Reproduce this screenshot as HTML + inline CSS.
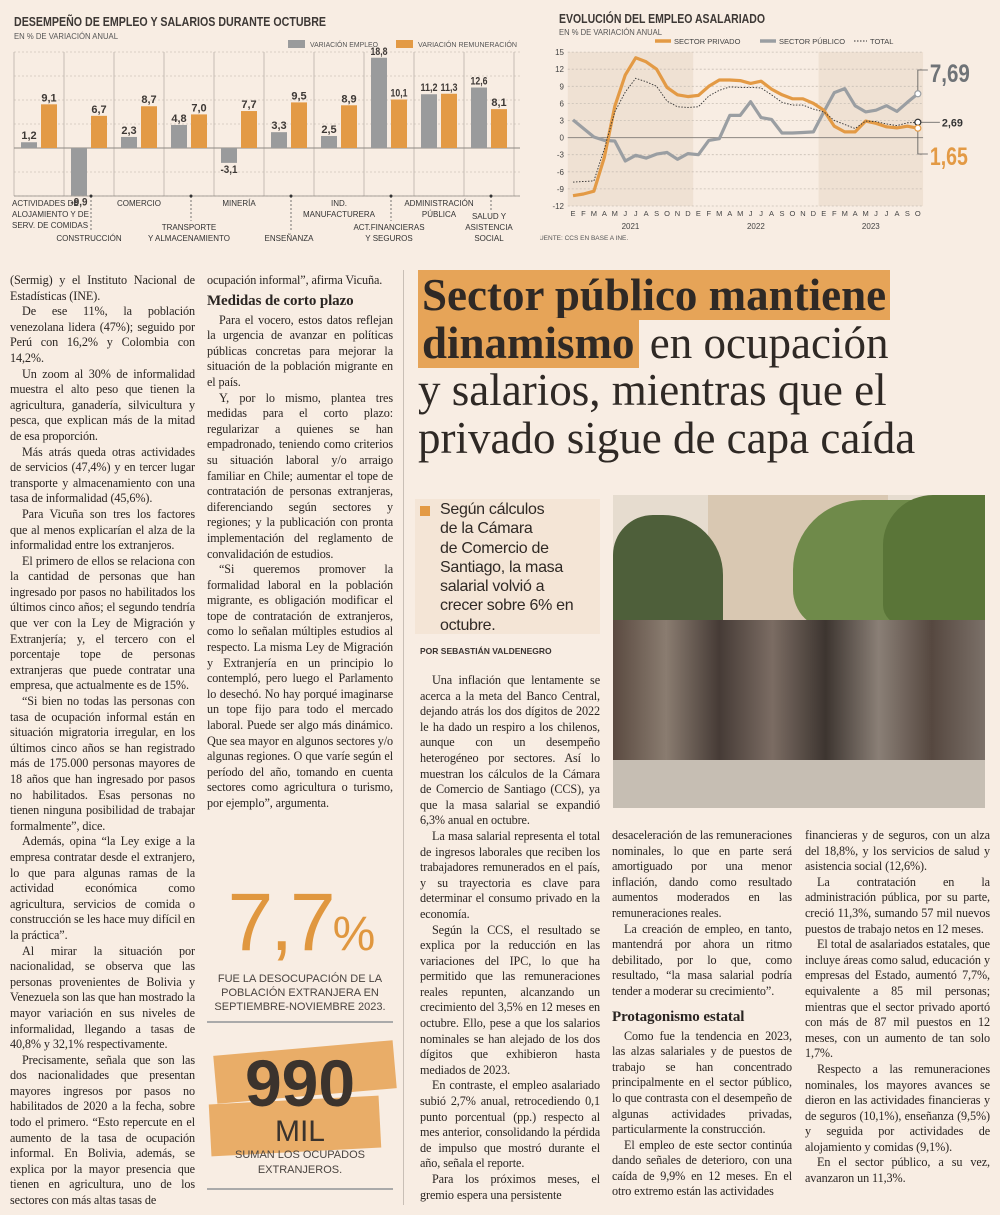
<!DOCTYPE html>
<html lang="es"><head><meta charset="utf-8">
<style>
*{margin:0;padding:0;box-sizing:border-box}
body{width:1000px;height:1215px;background:#f8ede3;position:relative;overflow:hidden;font-family:"Liberation Serif",serif;color:#2a2522}
.col{position:absolute;font-size:12.2px;line-height:15.6px;text-align:justify;hyphens:auto;-webkit-hyphens:auto;letter-spacing:-0.1px}
.col p{text-indent:12px}
.col p.ni{text-indent:0}
.col h3{font-size:15px;line-height:19px;font-weight:bold;margin:3px 0 2px}
svg text{font-family:"Liberation Sans",sans-serif}
.hl{background:#e6a458;padding:0 4px}
</style></head><body>
<svg id="bar" width="540" height="255" style="position:absolute;left:0;top:0"></svg>
<svg id="line" width="460" height="255" style="position:absolute;left:540px;top:0"></svg>

<div style="position:absolute;left:403px;top:270px;width:1px;height:935px;background:#c9bfb6"></div>

<div class="col" style="left:10px;top:273px;width:185px">
<p class="ni">(Sermig) y el Instituto Nacional de Estadísticas (INE).</p>
<p>De ese 11%, la población venezolana lidera (47%); seguido por Perú con 16,2% y Colombia con 14,2%.</p>
<p>Un zoom al 30% de informalidad muestra el alto peso que tienen la agricultura, ganadería, silvicultura y pesca, que explican más de la mitad de esa proporción.</p>
<p>Más atrás queda otras actividades de servicios (47,4%) y en tercer lugar transporte y almacenamiento con una tasa de informalidad (45,6%).</p>
<p>Para Vicuña son tres los factores que al menos explicarían el alza de la informalidad entre los extranjeros.</p>
<p>El primero de ellos se relaciona con la cantidad de personas que han ingresado por pasos no habilitados los últimos cinco años; el segundo tendría que ver con la Ley de Migración y Extranjería; y, el tercero con el porcentaje tope de personas extranjeras que puede contratar una empresa, que actualmente es de 15%.</p>
<p>“Si bien no todas las personas con tasa de ocupación informal están en situación migratoria irregular, en los últimos cinco años se han registrado más de 175.000 personas mayores de 18 años que han ingresado por pasos no habilitados. Esas personas no tienen ninguna posibilidad de trabajar formalmente”, dice.</p>
<p>Además, opina “la Ley exige a la empresa contratar desde el extranjero, lo que para algunas ramas de la actividad económica como agricultura, servicios de comida o construcción se les hace muy difícil en la práctica”.</p>
<p>Al mirar la situación por nacionalidad, se observa que las personas provenientes de Bolivia y Venezuela son las que han mostrado la mayor variación en sus niveles de informalidad, llegando a tasas de 40,8% y 32,1% respectivamente.</p>
<p>Precisamente, señala que son las dos nacionalidades que presentan mayores ingresos por pasos no habilitados de 2020 a la fecha, sobre todo el primero. “Esto repercute en el aumento de la tasa de ocupación informal. En Bolivia, además, se explica por la mayor presencia que tienen en agricultura, uno de los sectores con más altas tasas de</p>
</div>

<div class="col" style="left:207px;top:273px;width:186px">
<p class="ni">ocupación informal”, afirma Vicuña.</p>
<h3>Medidas de corto plazo</h3>
<p>Para el vocero, estos datos reflejan la urgencia de avanzar en políticas públicas concretas para mejorar la situación de la población migrante en el país.</p>
<p>Y, por lo mismo, plantea tres medidas para el corto plazo: regularizar a quienes se han empadronado, teniendo como criterios su situación laboral y/o arraigo familiar en Chile; aumentar el tope de contratación de personas extranjeras, diferenciando según sectores y regiones; y la publicación con pronta implementación del reglamento de convalidación de estudios.</p>
<p>“Si queremos promover la formalidad laboral en la población migrante, es obligación modificar el tope de contratación de extranjeros, como lo señalan múltiples estudios al respecto. La misma Ley de Migración y Extranjería en un principio lo contempló, pero luego el Parlamento lo desechó. No hay porqué imaginarse un tope fijo para todo el mercado laboral. Puede ser algo más dinámico. Que sea mayor en algunos sectores y/o algunas regiones. O que varíe según el período del año, tomando en cuenta sectores como agricultura o turismo, por ejemplo”, argumenta.</p>
</div>

<!-- stat boxes -->
<div style="position:absolute;left:207px;top:880px;width:186px;text-align:center;font-family:'Liberation Sans',sans-serif">
<div style="font-size:82px;line-height:86px;color:#e0973f;letter-spacing:-3px">7,7<span style="font-size:48px">%</span></div>
<div style="font-size:11px;line-height:14px;color:#4a4440;margin-top:-6px">FUE LA DESOCUPACIÓN DE LA<br>POBLACIÓN EXTRANJERA EN<br>SEPTIEMBRE-NOVIEMBRE 2023.</div>
</div>
<div style="position:absolute;left:207px;top:1021px;width:186px;height:2px;background:#aaa"></div>
<div style="position:absolute;left:215px;top:1048px;width:180px;height:48px;background:#e9ad68;transform:rotate(-5deg)"></div>
<div style="position:absolute;left:210px;top:1100px;width:170px;height:52px;background:#e9ad68;transform:rotate(-3deg)"></div>
<div style="position:absolute;left:207px;top:1050px;width:186px;text-align:center;font-family:'Liberation Sans',sans-serif">
<div style="font-size:66px;line-height:66px;font-weight:bold;color:#3b332d">990</div>
<div style="font-size:30px;line-height:32px;color:#3b332d">MIL</div>
<div style="font-size:11px;line-height:15px;color:#4a4440">SUMAN LOS OCUPADOS<br>EXTRANJEROS.</div>
</div>
<div style="position:absolute;left:207px;top:1188px;width:186px;height:2px;background:#aaa"></div>

<!-- headline -->
<div style="position:absolute;left:418px;top:272px;width:580px;font-family:'Liberation Serif',serif;font-size:45px;line-height:47.5px;color:#2f2925">
<span class="hl" style="font-weight:bold">Sector público mantiene</span><br><span class="hl" style="font-weight:bold">dinamismo</span> en ocupación<br>y salarios, mientras que el<br>privado sigue de capa caída</div>

<div style="position:absolute;left:415px;top:499px;width:185px;height:135px;background:#f4e5d6"></div>
<div style="position:absolute;left:420px;top:506px;width:10px;height:10px;background:#e39a45"></div>
<div style="position:absolute;left:440px;top:500px;width:160px;font-family:'Liberation Sans',sans-serif;font-size:16px;line-height:19.3px;color:#2f2925;letter-spacing:-0.3px">Según cálculos<br>de la Cámara<br>de Comercio de<br>Santiago, la masa<br>salarial volvió a<br>crecer sobre 6% en<br>octubre.</div>
<div style="position:absolute;left:420px;top:646px;font-family:'Liberation Sans',sans-serif;font-size:8.5px;font-weight:bold;color:#3a3330">POR SEBASTIÁN VALDENEGRO</div>

<!-- photo -->
<div style="position:absolute;left:613px;top:495px;width:372px;height:313px;overflow:hidden;background:#d8d2c8">
<div style="position:absolute;left:0;top:0;width:372px;height:170px;background:#e6dccf"></div>
<div style="position:absolute;left:95px;top:0;width:180px;height:140px;background:#d9c8b2"></div>
<div style="position:absolute;left:0;top:20px;width:110px;height:130px;background:#4e5f3a;border-radius:40px 60px 10px 10px"></div>
<div style="position:absolute;left:180px;top:5px;width:192px;height:130px;background:#6f8a4a;border-radius:70px 30px 10px 40px"></div>
<div style="position:absolute;left:270px;top:0;width:102px;height:130px;background:#5a7538;border-radius:50px 0 0 20px"></div>
<div style="position:absolute;left:0;top:150px;width:372px;height:163px;background:#bdb4a8"></div>
<div style="position:absolute;left:0;top:125px;width:372px;height:140px;background:linear-gradient(90deg,#5a4a40,#8a7c70,#463b36,#7b6c63,#3d3530,#8a7f76,#564840,#7b7068)"></div>
<div style="position:absolute;left:0;top:265px;width:372px;height:48px;background:#c6beb3"></div>
</div>

<div class="col" style="left:420px;top:673px;width:180px">
<p>Una inflación que lentamente se acerca a la meta del Banco Central, dejando atrás los dos dígitos de 2022 le ha dado un respiro a los chilenos, aunque con un desempeño heterogéneo por sectores. Así lo muestran los cálculos de la Cámara de Comercio de Santiago (CCS), ya que la masa salarial se expandió 6,3% anual en octubre.</p>
<p>La masa salarial representa el total de ingresos laborales que reciben los trabajadores remunerados en el país, y su trayectoria es clave para determinar el consumo privado en la economía.</p>
<p>Según la CCS, el resultado se explica por la reducción en las variaciones del IPC, lo que ha permitido que las remuneraciones reales repunten, alcanzando un crecimiento del 3,5% en 12 meses en octubre. Ello, pese a que los salarios nominales se han alejado de los dos dígitos que exhibieron hasta mediados de 2023.</p>
<p>En contraste, el empleo asalariado subió 2,7% anual, retrocediendo 0,1 punto porcentual (pp.) respecto al mes anterior, consolidando la pérdida de impulso que mostró durante el año, señala el reporte.</p>
<p>Para los próximos meses, el gremio espera una persistente</p>
</div>

<div class="col" style="left:612px;top:828px;width:180px">
<p class="ni">desaceleración de las remuneraciones nominales, lo que en parte será amortiguado por una menor inflación, dando como resultado aumentos moderados en las remuneraciones reales.</p>
<p>La creación de empleo, en tanto, mantendrá por ahora un ritmo debilitado, por lo que, como resultado, “la masa salarial podría tender a moderar su crecimiento”.</p>
<h3 style="margin-top:8px">Protagonismo estatal</h3>
<p>Como fue la tendencia en 2023, las alzas salariales y de puestos de trabajo se han concentrado principalmente en el sector público, lo que contrasta con el desempeño de algunas actividades privadas, particularmente la construcción.</p>
<p>El empleo de este sector continúa dando señales de deterioro, con una caída de 9,9% en 12 meses. En el otro extremo están las actividades</p>
</div>

<div class="col" style="left:805px;top:828px;width:185px">
<p class="ni">financieras y de seguros, con un alza del 18,8%, y los servicios de salud y asistencia social (12,6%).</p>
<p>La contratación en la administración pública, por su parte, creció 11,3%, sumando 57 mil nuevos puestos de trabajo netos en 12 meses.</p>
<p>El total de asalariados estatales, que incluye áreas como salud, educación y empresas del Estado, aumentó 7,7%, equivalente a 85 mil personas; mientras que el sector privado aportó con más de 87 mil puestos en 12 meses, con un aumento de tan solo 1,7%.</p>
<p>Respecto a las remuneraciones nominales, los mayores avances se dieron en las actividades financieras y de seguros (10,1%), enseñanza (9,5%) y seguida por actividades de alojamiento y comidas (9,1%).</p>
<p>En el sector público, a su vez, avanzaron un 11,3%.</p>
</div>

<script>
// ---- Bar chart data ----
const barCategories = [["ACTIVIDADES DE","ALOJAMIENTO Y DE","SERV. DE COMIDAS"],["CONSTRUCCIÓN"],["COMERCIO"],["TRANSPORTE","Y ALMACENAMIENTO"],["MINERÍA"],["ENSEÑANZA"],["IND.","MANUFACTURERA"],["ACT.FINANCIERAS","Y SEGUROS"],["ADMINISTRACIÓN","PÚBLICA"],["SALUD Y","ASISTENCIA","SOCIAL"]];
const empleoValues = [1.2,-9.9,2.3,4.8,-3.1,3.3,2.5,18.8,11.2,12.6];
const remuneracionValues = [9.1,6.7,8.7,7.0,7.7,9.5,8.9,10.1,11.3,8.1];
const barGridTicks = [-10,-5,0,5,10,15,20];

// ---- Line chart data ----
const monthLabels = ["E","F","M","A","M","J","J","A","S","O","N","D","E","F","M","A","M","J","J","A","S","O","N","D","E","F","M","A","M","J","J","A","S","O"];
const yearLabels = ["2021","2022","2023"];
const privadoValues = [-10.2,-9.9,-9.4,-3.5,5.5,11,14,13.3,12,8.8,7.5,7.2,7.4,9,10.1,10.1,10,9.5,9.9,8.5,7.5,6.8,6.8,6,4.8,2,1,1,2.9,2.5,1.9,1.7,2.0,1.65];
const publicoValues = [3.1,1.6,0.1,-0.5,-0.6,-4.1,-3.1,-3.6,-2.9,-2.6,-3.8,-2.8,-3.0,-0.5,-0.2,3.9,3.9,6.3,3.5,3.2,0.8,0.8,0.9,1.0,4.5,7.9,8.6,5.6,4.5,4.8,5.6,4.6,6.2,7.69];
const totalValues = [-7.8,-7.7,-7.6,-2,4.5,8,10.4,9.8,9,6.4,5.4,5.3,5.4,7.3,8.3,8.9,8.8,8.8,8.7,7.5,6.2,5.7,5.7,5,4.5,3,2.3,1.6,2.9,2.8,2.4,2.1,2.6,2.69];
const lineTicks = [-12,-9,-6,-3,0,3,6,9,12,15];

const NS="http://www.w3.org/2000/svg";
function mk(svg,tag,attrs,txt){const e=document.createElementNS(NS,tag);for(const k in attrs)e.setAttribute(k,attrs[k]);if(txt!==undefined)e.textContent=txt;svg.appendChild(e);return e;}
const fmt=v=>v.toFixed(1).replace('.',',');

// Bar chart
(function(){
const s=document.getElementById('bar');
const by=v=>148-v*4.8;
const colX=i=>14+i*50;
let e;
e=mk(s,'text',{x:14,y:26,'font-size':13,'font-weight':'bold',fill:'#3d3835',textLength:312,lengthAdjust:'spacingAndGlyphs'},'DESEMPEÑO DE EMPLEO Y SALARIOS DURANTE OCTUBRE');

e=mk(s,'text',{x:14,y:39,'font-size':8,fill:'#555',textLength:104,lengthAdjust:'spacingAndGlyphs'},'EN % DE VARIACIÓN ANUAL');

e=mk(s,'rect',{x:288,y:40,width:17,height:8,fill:'#9a9b9c'});

e=mk(s,'text',{x:310,y:47,'font-size':7.5,fill:'#555',textLength:68,lengthAdjust:'spacingAndGlyphs'},'VARIACIÓN EMPLEO');

e=mk(s,'rect',{x:396,y:40,width:17,height:8,fill:'#e39a45'});

e=mk(s,'text',{x:418,y:47,'font-size':7.5,fill:'#555',textLength:99,lengthAdjust:'spacingAndGlyphs'},'VARIACIÓN REMUNERACIÓN');

barGridTicks.forEach(t=>{if(t===0)return;const l=mk(s,'line',{x1:14,x2:520,y1:by(t),y2:by(t),stroke:'#cfc6bd','stroke-width':0.8,'stroke-dasharray':'2,2'});
});
for(let i=0;i<=barCategories.length;i++){const l=mk(s,'line',{x1:colX(i),x2:colX(i),y1:by(20),y2:by(-10),stroke:'#b9b0a8','stroke-width':0.8});
}
const z=mk(s,'line',{x1:14,x2:520,y1:by(0),y2:by(0),stroke:'#8d8782','stroke-width':1});

const bl=mk(s,'line',{x1:14,x2:520,y1:by(-10),y2:by(-10),stroke:'#8d8782','stroke-width':0.8});

barCategories.forEach((cat,i)=>{
 const x0=colX(i);
 [[empleoValues[i],7,'#9a9b9c','bar-empleo'],[remuneracionValues[i],27,'#e39a45','bar-remuneracion']].forEach(([v,off,c,n])=>{
  const r=mk(s,'rect',{x:x0+off,y:Math.min(by(v),by(0)),width:16,height:Math.abs(by(v)-by(0)),fill:c});
  
  const lbl=fmt(v);
  const at={x:x0+off+8,y:v>=0?by(v)-3:by(v)+10,'font-size':11,'font-weight':'bold','text-anchor':'middle',fill:'#3d3835'};
  if(lbl.length>=4){at.textLength=17;at.lengthAdjust='spacingAndGlyphs';}
  const t=mk(s,'text',at,lbl);
  
 });
 const odd=i%2===1;
 const cx=x0+25;
 let y0;
 if(odd){y0=241-(cat.length-1)*11;
  const d=mk(s,'line',{x1:cx+2,x2:cx+2,y1:196,y2:y0-9,stroke:'#555','stroke-width':0.8,'stroke-dasharray':'2,2'});
  
  const dot=mk(s,'circle',{cx:cx+2,cy:196,r:1.5,fill:'#333'});
  
 } else y0=206;
 if(i===9)y0=219;
 cat.forEach((ln,k)=>{const t=mk(s,'text',{x:i===0?12:cx,y:y0+k*11,'font-size':8,'text-anchor':i===0?'start':'middle',fill:'#333'},ln);
 });
});
})();

// Line chart
(function(){
const s=document.getElementById('line');
const lx=i=>33+i*10.45;
const ly=v=>137.6-v*5.7;
let e;
e=mk(s,'text',{x:19,y:23,'font-size':12.5,'font-weight':'bold',fill:'#3d3835',textLength:206,lengthAdjust:'spacingAndGlyphs'},'EVOLUCIÓN DEL EMPLEO ASALARIADO');

e=mk(s,'text',{x:19,y:35,'font-size':8,fill:'#555',textLength:103,lengthAdjust:'spacingAndGlyphs'},'EN % DE VARIACIÓN ANUAL');

e=mk(s,'rect',{x:lx(-0.5),y:ly(15),width:lx(11.5)-lx(-0.5),height:ly(-12)-ly(15),fill:'#efe1d3'});

e=mk(s,'rect',{x:lx(23.5),y:ly(15),width:lx(33.5)-lx(23.5),height:ly(-12)-ly(15),fill:'#efe1d3'});

lineTicks.forEach(t=>{
 const l=mk(s,'line',{x1:lx(-0.5),x2:lx(33.5),y1:ly(t),y2:ly(t),stroke:t===0?'#8d8782':'#c9c0b6','stroke-width':t===0?1:0.8,'stroke-dasharray':t===0?'':'2,2'});
 
 const tx=mk(s,'text',{x:24,y:ly(t)+3,'font-size':8,'text-anchor':'end',fill:'#444'},String(t));
 
});
monthLabels.forEach((m,i)=>{const t=mk(s,'text',{x:lx(i),y:216,'font-size':7.5,'text-anchor':'middle',fill:'#444'},m);
});
yearLabels.forEach((y,k)=>{const c=k<2?lx(k*12+5.5):lx(28.5);const t=mk(s,'text',{x:c,y:229,'font-size':8,'text-anchor':'middle',fill:'#444'},y);
});
e=mk(s,'text',{x:-5,y:240,'font-size':6.5,fill:'#555'},'FUENTE: CCS EN BASE A INE.');

const path=vals=>vals.map((v,i)=>(i?'L':'M')+lx(i).toFixed(1)+','+ly(v).toFixed(1)).join(' ');
e=mk(s,'path',{d:path(publicoValues),fill:'none',stroke:'#9a9ea2','stroke-width':3.2,'stroke-linejoin':'round'});

e=mk(s,'path',{d:path(privadoValues),fill:'none',stroke:'#e39a45','stroke-width':3.2,'stroke-linejoin':'round'});

e=mk(s,'path',{d:path(totalValues),fill:'none',stroke:'#333','stroke-width':0.9,'stroke-dasharray':'1.5,1.5'});

e=mk(s,'line',{x1:115,x2:131,y1:41,y2:41,stroke:'#e39a45','stroke-width':3.5});

e=mk(s,'text',{x:134,y:44,'font-size':7.5,fill:'#444'},'SECTOR PRIVADO');

e=mk(s,'line',{x1:220,x2:236,y1:41,y2:41,stroke:'#9a9ea2','stroke-width':3.5});

e=mk(s,'text',{x:239,y:44,'font-size':7.5,fill:'#444'},'SECTOR PÚBLICO');

e=mk(s,'line',{x1:314,x2:327,y1:41,y2:41,stroke:'#333','stroke-width':1,'stroke-dasharray':'1.5,1.5'});

e=mk(s,'text',{x:330,y:44,'font-size':7.5,fill:'#444'},'TOTAL');

const n=monthLabels.length-1, ex=lx(n);
const pv=publicoValues[n], tv=totalValues[n], rv=privadoValues[n];
e=mk(s,'path',{d:`M${ex},${ly(pv)} V70 H${ex+10}`,fill:'none',stroke:'#555','stroke-width':0.8});

e=mk(s,'path',{d:`M${ex},${ly(tv)} H${ex+22}`,fill:'none',stroke:'#555','stroke-width':0.8});

e=mk(s,'path',{d:`M${ex},${ly(rv)} V154 H${ex+10}`,fill:'none',stroke:'#555','stroke-width':0.8});

[[pv,'#9a9ea2'],[tv,'#333'],[rv,'#e39a45']].forEach(([v,c])=>{const d=mk(s,'circle',{cx:ex,cy:ly(v),r:3,fill:'#fff',stroke:c,'stroke-width':1.2});
});
e=mk(s,'text',{x:ex+12,y:82,'font-size':25,'font-weight':'bold',fill:'#6f7377',textLength:40,lengthAdjust:'spacingAndGlyphs'},pv.toFixed(2).replace('.',','));

e=mk(s,'text',{x:ex+24,y:ly(tv)+4,'font-size':11,'font-weight':'bold',fill:'#333',textLength:21,lengthAdjust:'spacingAndGlyphs'},tv.toFixed(2).replace('.',','));

e=mk(s,'text',{x:ex+12,y:165,'font-size':25,'font-weight':'bold',fill:'#e39a45',textLength:38,lengthAdjust:'spacingAndGlyphs'},rv.toFixed(2).replace('.',','));

})();
</script>
</body></html>
